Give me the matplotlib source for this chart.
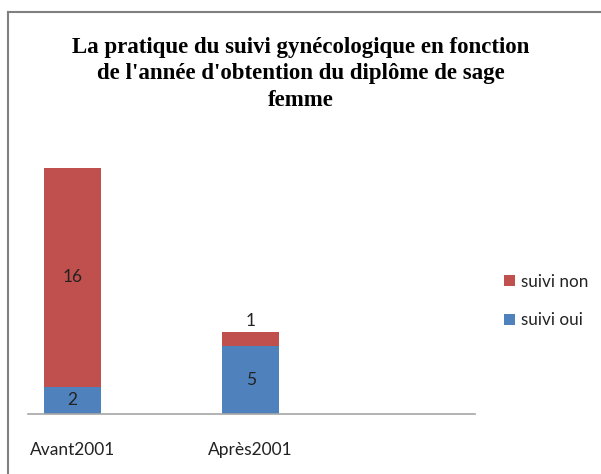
import matplotlib.pyplot as plt
import numpy as np

categories = ['Avant2001', 'Après2001']
suivi_oui = [2, 5]
suivi_non = [16, 1]

col_oui = '#4F81BD'
col_non = '#C0504D'

fig = plt.figure(figsize=(6.01, 4.74), dpi=100)
ax = fig.add_axes([28/601, 60/474, 447/601, 273.4/474])

x = np.arange(len(categories))
w = 0.32
b1 = ax.bar(x, suivi_oui, w, color=col_oui, label='suivi oui')
b2 = ax.bar(x, suivi_non, w, bottom=suivi_oui, color=col_non, label='suivi non')

lab_font = dict(family='Lato', fontsize=12.5, color='#222222')
for i in range(len(categories)):
    ax.text(x[i], suivi_oui[i] / 2, str(suivi_oui[i]), ha='center', va='center', **lab_font)
    top = suivi_oui[i] + suivi_non[i]
    if suivi_non[i] >= 2:
        ax.text(x[i], suivi_oui[i] + suivi_non[i] / 2, str(suivi_non[i]),
                ha='center', va='center', **lab_font)
    else:
        ax.text(x[i], top + 0.25, str(suivi_non[i]), ha='center', va='bottom', **lab_font)

ax.set_xlim(-0.25, 2.26)
ax.set_ylim(0, 20)
for s in ['left', 'right', 'top']:
    ax.spines[s].set_visible(False)
ax.spines['bottom'].set_color('#A6A6A6')
ax.spines['bottom'].set_linewidth(1.2)
ax.set_yticks([])
ax.set_xticks(x)
ax.set_xticklabels(categories, **lab_font)
ax.tick_params(axis='x', length=0, pad=20)

fig.text(0.5, 1 - 74/474, "La pratique du suivi gynécologique en fonction\nde l'année d'obtention du diplôme de sage\nfemme",
         ha='center', va='center', family='Liberation Serif', fontweight='bold',
         fontsize=16.5, linespacing=1.32)

leg = fig.legend(handles=[b2, b1], loc='center left', bbox_to_anchor=(489/601, 1 - 301/474),
                 frameon=False, prop=dict(family='Lato', size=12.3),
                 handlelength=0.6, handleheight=0.6, handletextpad=0.35, labelspacing=1.3)
for t in leg.get_texts():
    t.set_color('#222222')

# chart border (left and top edges visible)
fig.add_artist(plt.Line2D([7.5/601, 7.5/601], [0, 1 - 11.5/474], transform=fig.transFigure,
                          color='#808080', lw=1.5))
fig.add_artist(plt.Line2D([7.5/601, 1], [1 - 11.5/474, 1 - 11.5/474], transform=fig.transFigure,
                          color='#808080', lw=1.5))

fig.savefig('out.png', dpi=100)
